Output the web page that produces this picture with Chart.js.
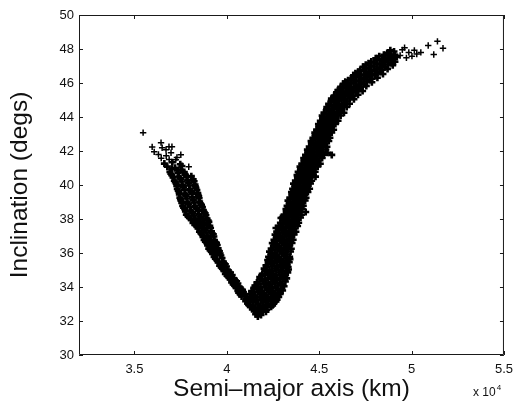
<!DOCTYPE html>
<html>
<head>
<meta charset="utf-8">
<script src="https://cdn.jsdelivr.net/npm/chart.js@4/dist/chart.umd.min.js"></script>
<style>
  html, body { margin: 0; padding: 0; background: #fff; }
  canvas { display: block; }
</style>
</head>
<body>
<canvas id="chart" width="520" height="407"></canvas>
<script>
// Axis ticks: semi-major axis in km, inclination in degrees
const xTickValues = [35000, 40000, 45000, 50000, 55000];
const yTickValues = [30, 32, 34, 36, 38, 40, 42, 44, 46, 48, 50];

// [semi-major axis (km), inclination (deg)] — sparse orbits at the top of the descending arm
const upperLeftTail = [
  [35470,43.08],
  [35960,42.24],[36070,41.95],[36440,42.49],[36500,42.19],[36710,42.08],[36870,42.25],[37030,42.25],
  [37510,41.78],[36980,41.90],[37240,41.49],[37940,41.07],[37400,40.90],[36300,41.80],[36720,41.72],
  [36450,41.58],[36880,41.50],[37300,41.62]
];

// [semi-major axis (km), inclination (deg)] — descending arm, low-a side
const leftArm = [
  [36620,41.26],[37050,41.34],[37480,41.22],
  [36780,41.08],[37200,41.01],[37570,41.12],
  [37020,40.95],[37500,40.90],
  [36920,40.77],[37310,40.85],[37700,40.76],
  [36970,40.66],[37350,40.71],[37730,40.65],
  [37020,40.58],[37400,40.50],[37760,40.60],[38080,40.52],
  [37090,40.45],[37460,40.40],[37820,40.47],
  [37160,40.26],[37520,40.34],[37880,40.27],[38180,40.33],
  [37210,40.16],[37560,40.21],[37910,40.15],[38230,40.22],
  [37260,40.08],[37600,40.01],[37940,40.10],[38280,40.02],
  [37290,39.95],[37630,39.90],[37970,39.97],[38300,39.91],
  [37320,39.77],[37660,39.85],[38000,39.76],[38330,39.84],
  [37370,39.66],[37710,39.71],[38050,39.65],[38380,39.70],
  [37410,39.58],[37750,39.50],[38090,39.60],[38430,39.52],
  [37430,39.45],[37770,39.40],[38110,39.47],[38450,39.41],
  [37460,39.26],[37800,39.34],[38140,39.27],[38480,39.33],
  [37490,39.16],[37830,39.21],[38170,39.15],[38500,39.22],
  [37520,39.08],[37860,39.01],[38190,39.10],[38530,39.02],
  [37560,38.95],[37900,38.90],[38240,38.97],[38580,38.91],
  [37610,38.77],[37950,38.85],[38290,38.76],[38630,38.84],
  [37660,38.66],[38000,38.71],[38340,38.65],[38680,38.70],
  [37720,38.58],[38050,38.50],[38390,38.60],[38730,38.52],
  [37760,38.45],[38100,38.40],[38440,38.47],[38780,38.41],
  [37810,38.26],[38150,38.34],[38490,38.27],[38830,38.33],
  [37890,38.16],[38220,38.21],[38550,38.15],[38870,38.22],
  [37970,38.08],[38290,38.01],[38620,38.10],[38930,38.02],
  [38070,37.95],[38390,37.90],[38710,37.97],[38990,37.91],
  [38170,37.77],[38480,37.85],[38790,37.76],[39030,37.83],
  [38270,37.66],[38600,37.71],[38930,37.65],
  [38370,37.58],[38720,37.50],[39080,37.60],
  [38440,37.45],[38780,37.40],[39120,37.47],
  [38520,37.26],[38840,37.34],[39170,37.27],
  [38590,37.16],[38900,37.21],[39220,37.15],
  [38660,37.08],[38960,37.01],[39270,37.10],
  [38710,36.95],[39000,36.90],[39300,36.97],
  [38770,36.77],[39050,36.85],[39330,36.76],
  [38840,36.66],[39110,36.71],[39380,36.65],
  [38920,36.58],[39180,36.50],[39440,36.60],
  [38960,36.45],[39220,36.40],[39480,36.47],
  [39020,36.26],[39270,36.34],[39530,36.27],
  [39090,36.16],[39330,36.21],[39560,36.15],
  [39160,36.08],[39390,36.01],[39600,36.10],
  [39230,35.95],[39450,35.90],[39640,35.97],
  [39310,35.77],[39680,35.85],
  [39380,35.66],[39740,35.71],
  [39460,35.58],[39810,35.50],
  [39530,35.45],[39860,35.40],
  [39610,35.26],[39920,35.34],
  [39690,35.16],[39980,35.21],
  [39760,35.08],[40040,35.01],
  [39840,34.95],[40120,34.90],
  [39920,34.77],[40200,34.85],
  [40010,34.66],[40290,34.71],
  [40100,34.58],[40380,34.51],
  [40180,34.45],[40460,34.40],
  [40260,34.27],[40530,34.34],
  [40340,34.16],[40600,34.21],
  [40420,34.08],[40680,34.01],
  [40500,33.95],[40760,33.90],
  [40600,33.77],[40850,33.84],
  [40640,33.66],[40900,33.71],
  [40720,33.58],[40980,33.51],
  [40800,33.44],[41080,33.40]
];

// [semi-major axis (km), inclination (deg)] — rising arm from the minimum
const rightArm = [
  [41680,32.27],[41850,32.36],
  [41760,32.45],[41560,32.40],
  [41480,32.58],[41700,32.52],[41950,32.61],[42120,32.55],
  [41380,32.70],[41620,32.66],[41870,32.72],[42160,32.67],
  [41270,32.83],[41540,32.77],[41800,32.88],[42080,32.79],[42400,32.84],
  [41180,32.95],[41410,32.90],[41680,32.97],[41950,32.91],[42240,32.96],[42480,32.92],
  [41120,33.03],[41420,33.10],[41700,33.00],[41980,33.09],[42250,33.03],[42560,33.07],
  [41020,33.16],[41270,33.21],[41560,33.15],[41840,33.22],[42110,33.17],[42400,33.20],[42660,33.15],
  [41050,33.28],[41330,33.34],[41620,33.25],[41900,33.36],[42180,33.27],[42470,33.33],[42720,33.26],
  [41370,33.45],[41660,33.40],[41950,33.47],[42240,33.41],[42530,33.46],[42810,33.42],
  [41230,33.58],[41520,33.50],[41800,33.61],[42090,33.52],[42380,33.60],[42660,33.53],[42890,33.59],
  [41420,33.66],[41700,33.71],[41990,33.65],[42280,33.70],[42570,33.64],[42860,33.72],
  [41340,33.76],[41620,33.85],[41900,33.77],[42200,33.84],[42480,33.75],[42770,33.83],[43020,33.79],
  [41460,33.95],[41760,33.90],[42060,33.97],[42350,33.91],[42640,33.96],[42920,33.90],
  [41520,34.08],[41830,34.01],[42140,34.10],[42460,34.02],[42780,34.09],[43100,34.04],
  [41680,34.16],[41990,34.21],[42300,34.15],[42620,34.22],[42930,34.17],
  [41630,34.27],[41940,34.34],[42250,34.25],[42560,34.33],[42870,34.26],[43170,34.32],
  [41790,34.45],[42100,34.40],[42410,34.47],[42720,34.41],[43020,34.46],
  [41780,34.58],[42080,34.50],[42390,34.60],[42700,34.52],[43000,34.59],[43240,34.51],
  [41880,34.66],[42240,34.71],[42550,34.65],[42850,34.72],[43150,34.67],
  [41920,34.77],[42220,34.84],[42530,34.76],[42840,34.85],[43120,34.78],[43300,34.86],
  [42060,34.95],[42370,34.90],[42680,34.97],[42990,34.91],[43260,34.96],
  [42020,35.08],[42310,35.01],[42610,35.09],[42920,35.02],[43200,35.10],[43340,35.03],
  [42150,35.16],[42460,35.21],[42760,35.15],[43060,35.22],[43320,35.17],
  [42120,35.27],[42400,35.35],[42700,35.26],[42990,35.33],[43260,35.28],
  [42250,35.45],[42550,35.40],[42850,35.47],[43150,35.41],[43380,35.46],
  [42210,35.58],[42480,35.51],[42760,35.60],[43050,35.52],[43310,35.59],
  [42330,35.66],[42620,35.71],[42910,35.65],[43200,35.70],[43420,35.64],
  [42260,35.77],[42540,35.84],[42820,35.75],[43110,35.83],[43400,35.78],
  [42390,35.95],[42680,35.90],[42970,35.97],[43260,35.91],
  [42310,36.08],[42590,36.01],[42880,36.10],[43170,36.03],[43450,36.09],
  [42450,36.16],[42740,36.21],[43030,36.15],[43310,36.22],
  [42400,36.26],[42680,36.34],[42960,36.27],[43240,36.33],[43490,36.25],
  [42540,36.45],[42820,36.40],[43100,36.47],[43370,36.41],
  [42460,36.58],[42730,36.51],[43010,36.60],[43280,36.52],[43530,36.59],
  [42600,36.66],[42880,36.71],[43160,36.65],[43430,36.70],
  [42550,36.77],[42810,36.85],[43080,36.76],[43350,36.83],[43590,36.78],
  [42690,36.95],[42960,36.90],[43230,36.97],[43490,36.91],
  [42610,37.08],[42870,37.01],[43140,37.10],[43410,37.03],[43640,37.09],
  [42750,37.16],[43020,37.21],[43290,37.15],[43540,37.22],
  [42700,37.26],[42960,37.34],[43230,37.27],[43490,37.33],[43740,37.25],
  [42840,37.45],[43100,37.40],[43370,37.47],[43620,37.41],[42660,37.47],
  [42810,37.58],[43070,37.51],[43330,37.60],[43590,37.53],[43830,37.59],
  [42940,37.66],[43200,37.71],[43460,37.65],[43720,37.70],
  [42900,37.77],[43150,37.85],[43400,37.76],[43660,37.83],[43890,37.78],
  [43030,37.95],[43280,37.90],[43530,37.97],[43780,37.91],
  [43000,38.08],[43250,38.01],[43510,38.10],[43760,38.02],[43990,38.09],[42930,38.06],
  [43130,38.16],[43380,38.21],[43630,38.15],[43880,38.22],
  [43100,38.26],[43340,38.33],[43590,38.27],[43830,38.34],[44040,38.25],
  [43220,38.45],[43470,38.40],[43710,38.47],[43950,38.41],[44270,38.41],
  [43200,38.58],[43430,38.50],[43670,38.60],[43900,38.52],[44090,38.59],
  [43320,38.66],[43550,38.71],[43790,38.65],[44010,38.70],
  [43260,38.77],[43490,38.85],[43720,38.76],[43950,38.84],[44140,38.78],
  [43380,38.95],[43610,38.90],[43850,38.97],[44070,38.91],
  [43310,39.08],[43550,39.01],[43790,39.10],[44030,39.02],[44240,39.09],
  [43430,39.16],[43670,39.21],[43910,39.15],[44140,39.22],
  [43410,39.26],[43640,39.34],[43870,39.27],[44100,39.33],[44290,39.25],
  [43520,39.45],[43750,39.40],[43990,39.47],[44210,39.41],
  [43500,39.58],[43730,39.51],[43960,39.60],[44190,39.52],[44390,39.59],
  [43620,39.66],[43850,39.71],[44080,39.65],[44300,39.70],
  [43560,39.77],[43790,39.85],[44030,39.76],[44260,39.84],[44480,39.78],
  [43680,39.95],[43910,39.90],[44140,39.97],[44370,39.91],
  [43610,40.08],[43850,40.01],[44090,40.10],[44320,40.02],[44530,40.09],
  [43730,40.16],[43970,40.21],[44200,40.15],[44430,40.22],
  [43710,40.26],[43940,40.34],[44170,40.27],[44390,40.33],[44590,40.25],
  [43820,40.45],[44060,40.40],[44280,40.47],[44500,40.41],[44800,40.49],
  [43800,40.58],[44030,40.50],[44260,40.60],[44480,40.52],[44680,40.59],
  [43920,40.66],[44150,40.71],[44380,40.65],[44600,40.70],
  [43860,40.77],[44090,40.85],[44330,40.76],[44560,40.84],[44780,40.78],
  [43990,40.95],[44220,40.90],[44460,40.97],[44690,40.91],
  [43960,41.08],[44200,41.01],[44440,41.10],[44680,41.02],[44920,41.09],
  [44080,41.16],[44320,41.21],[44560,41.15],[44800,41.22],
  [44060,41.26],[44300,41.34],[44550,41.27],[44810,41.33],[45060,41.25],
  [44180,41.45],[44420,41.40],[44670,41.47],[44920,41.41],
  [44160,41.58],[44400,41.50],[44650,41.60],[44900,41.52],[45160,41.59],
  [44280,41.66],[44520,41.71],[44770,41.65],[45020,41.70],
  [44260,41.77],[44500,41.85],[44750,41.76],[45000,41.84],[45260,41.78],[45680,41.77],
  [44380,41.95],[44620,41.90],[44870,41.97],[45120,41.91],[45450,41.89],
  [44360,42.08],[44600,42.01],[44850,42.10],[45100,42.02],[45360,42.09],
  [44480,42.16],[44720,42.21],[44970,42.15],[45220,42.22],
  [44460,42.26],[44700,42.34],[44940,42.27],[45180,42.33],[45420,42.25],
  [44580,42.45],[44820,42.40],[45060,42.47],[45300,42.41],
  [44560,42.58],[44800,42.50],[45040,42.60],[45280,42.52],[45520,42.59],
  [44680,42.66],[44920,42.71],[45160,42.65],[45400,42.70],
  [44660,42.77],[44890,42.85],[45120,42.76],[45350,42.84],[45580,42.78],
  [44780,42.95],[45010,42.90],[45240,42.97],[45470,42.91],
  [44760,43.08],[44990,43.01],[45220,43.10],[45450,43.02],[45680,43.09],
  [44880,43.16],[45110,43.21],[45340,43.15],[45570,43.22],
  [44860,43.26],[45090,43.34],[45320,43.27],[45550,43.33],[45780,43.25],
  [44980,43.45],[45210,43.40],[45440,43.47],[45670,43.41],
  [44960,43.58],[45190,43.50],[45420,43.60],[45650,43.52],[45880,43.59],
  [45080,43.66],[45310,43.71],[45540,43.65],[45770,43.70],
  [45060,43.77],[45300,43.85],[45540,43.76],[45780,43.84],[46020,43.78],
  [45180,43.95],[45420,43.90],[45660,43.97],[45900,43.91],
  [45160,44.08],[45410,44.01],[45660,44.10],[45910,44.02],[46160,44.09],
  [45280,44.16],[45530,44.21],[45780,44.15],[46030,44.22],
  [45260,44.26],[45530,44.34],[45800,44.27],[46070,44.33],[46340,44.25],
  [45400,44.45],[45670,44.40],[45940,44.47],[46210,44.41],
  [45410,44.58],[45680,44.50],[45950,44.60],[46220,44.52],[46490,44.59],
  [45540,44.66],[45810,44.71],[46080,44.65],[46350,44.70],
  [45510,44.77],[45790,44.85],[46070,44.76],[46350,44.84],[46640,44.78],
  [45650,44.95],[45930,44.90],[46210,44.97],[46490,44.91],
  [45660,45.08],[45910,45.01],[46160,45.10],[46410,45.02],[46660,45.09],[46880,45.04],
  [45790,45.16],[46040,45.21],[46290,45.15],[46540,45.22],[46780,45.17],
  [45810,45.26],[46070,45.34],[46330,45.27],[46590,45.33],[46850,45.25],[47100,45.31],
  [45940,45.45],[46200,45.40],[46460,45.47],[46720,45.41],[46980,45.46],
  [46010,45.58],[46280,45.50],[46550,45.60],[46820,45.52],[47090,45.59],[47350,45.53],
  [46150,45.66],[46420,45.71],[46690,45.65],[46960,45.70],[47230,45.64],
  [46160,45.77],[46440,45.85],[46720,45.76],[47000,45.84],[47280,45.78],[47550,45.83],
  [46300,45.95],[46580,45.90],[46860,45.97],[47140,45.91],[47420,45.96],
  [46410,46.08],[46700,46.01],[46990,46.10],[47280,46.02],[47570,46.09],[47850,46.04],
  [46560,46.16],[46850,46.21],[47140,46.15],[47430,46.22],[47720,46.17],
  [46710,46.26],[47000,46.34],[47290,46.27],[47580,46.33],[47870,46.25],[48150,46.31],
  [46860,46.45],[47150,46.40],[47440,46.47],[47730,46.41],[48020,46.46],
  [46960,46.58],[47260,46.50],[47560,46.60],[47860,46.52],[48160,46.59],[48450,46.53],
  [47110,46.66],[47410,46.71],[47710,46.65],[48010,46.70],[48310,46.64],
  [47220,46.77],[47520,46.85],[47820,46.76],[48120,46.84],[48420,46.78],[48700,46.83],
  [47370,46.95],[47670,46.90],[47970,46.97],[48270,46.91],[48570,46.96],
  [47520,47.08],[47820,47.01],[48120,47.10],[48420,47.02],[48720,47.09],[48980,47.04],
  [47670,47.16],[47970,47.21],[48270,47.15],[48570,47.22],[48870,47.17],
  [47820,47.26],[48130,47.34],[48440,47.27],[48750,47.33],[49100,47.25],
  [48060,47.45],[48390,47.40],[48700,47.47],[49000,47.41],
  [48250,47.58],[48560,47.50],[48880,47.60],[49200,47.53],
  [48500,47.66],[48800,47.71],[49100,47.65],
  [48680,47.77],[49050,47.85],
  [48850,47.92]
];

// Sparse orbits beyond the top of the rising arm
const upperRightTail = [
  [49380,47.62],[49500,47.95],[49720,47.48],[49850,47.80],[50020,47.58],[50150,47.92],[49620,48.08],[50280,47.70],
  [50500,47.80],[50900,48.21],[51200,47.68],[51400,48.45],[51700,48.04]
];

const FONT = '"Liberation Sans", Arial, Helvetica, sans-serif';
const INK = '#111';

const toXY = rows => rows.map(([a, inc]) => ({ x: a, y: inc }));

// Box frame, inward ticks on all four sides, and the x10^4 multiplier
const axesBox = {
  id: 'axesBox',
  afterDraw(chart) {
    const { ctx, chartArea: a, scales: { x, y } } = chart;
    const len = 4;
    ctx.save();
    ctx.strokeStyle = '#1a1a1a';
    ctx.lineWidth = 1;
    ctx.beginPath();
    ctx.rect(a.left + 0.5, a.top + 0.5, a.right - a.left - 1, a.bottom - a.top - 1);
    x.ticks.forEach(t => {
      const px = Math.round(x.getPixelForValue(t.value)) + 0.5;
      ctx.moveTo(px, a.bottom); ctx.lineTo(px, a.bottom - len);
      ctx.moveTo(px, a.top); ctx.lineTo(px, a.top + len);
    });
    y.ticks.forEach(t => {
      const py = Math.round(y.getPixelForValue(t.value)) + 0.5;
      ctx.moveTo(a.left, py); ctx.lineTo(a.left + len, py);
      ctx.moveTo(a.right, py); ctx.lineTo(a.right - len, py);
    });
    ctx.stroke();

    ctx.fillStyle = INK;
    ctx.textAlign = 'left';
    ctx.textBaseline = 'middle';
    ctx.font = '12px ' + FONT;
    const ex = a.right - 31, ey = a.bottom + 38;
    ctx.fillText('x 10', ex, ey);
    const w = ctx.measureText('x 10').width;
    ctx.font = '8px ' + FONT;
    ctx.fillText('4', ex + w + 1, ey - 5);
    ctx.restore();
  }
};

const denseStyle = {
  pointStyle: 'cross', pointRadius: 3.5, pointHoverRadius: 3.5, pointBorderWidth: 2.6,
  pointBorderColor: '#000', pointBackgroundColor: '#000', showLine: false
};
const sparseStyle = {
  pointStyle: 'cross', pointRadius: 3.2, pointHoverRadius: 3.2, pointBorderWidth: 1.5,
  pointBorderColor: '#000', pointBackgroundColor: '#000', showLine: false
};

new Chart(document.getElementById('chart'), {
  type: 'scatter',
  data: {
    datasets: [
      { data: toXY([...leftArm, ...rightArm]), ...denseStyle },
      { data: toXY([...upperLeftTail, ...upperRightTail]), ...sparseStyle }
    ]
  },
  options: {
    responsive: false,
    animation: false,
    devicePixelRatio: 1,
    events: [],
    layout: { padding: { top: 15, right: 11, left: 0, bottom: 0 } },
    plugins: { legend: { display: false }, tooltip: { enabled: false } },
    scales: {
      x: {
        type: 'linear',
        min: 32000,
        max: 55000,
        afterBuildTicks: s => { s.ticks = xTickValues.map(v => ({ value: v })); },
        afterFit: s => { s.height = 52; },
        grid: { display: false, drawTicks: false },
        border: { display: false },
        ticks: {
          padding: 7, color: INK, font: { family: FONT, size: 13 },
          maxRotation: 0, autoSkip: false,
          callback: v => String(v / 1e4)
        },
        title: {
          display: true, text: 'Semi–major axis (km)', color: INK,
          font: { family: FONT, size: 24.5 }, padding: { top: 0, bottom: 3 }
        }
      },
      y: {
        type: 'linear',
        min: 30,
        max: 50,
        afterBuildTicks: s => { s.ticks = yTickValues.map(v => ({ value: v })); },
        afterFit: s => { s.width = 79; },
        grid: { display: false, drawTicks: false },
        border: { display: false },
        ticks: { padding: 5, color: INK, font: { family: FONT, size: 13 }, autoSkip: false },
        title: {
          display: true, text: 'Inclination (degs)', color: INK,
          font: { family: FONT, size: 24.5 }, padding: { top: 6, bottom: 0 }
        }
      }
    }
  },
  plugins: [axesBox]
});
</script>
</body>
</html>
